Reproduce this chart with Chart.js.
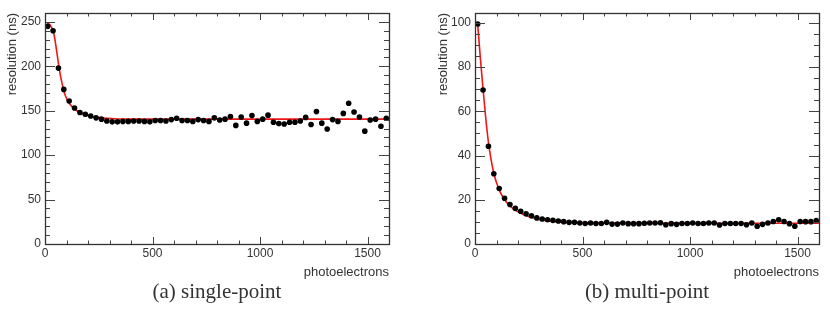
<!DOCTYPE html>
<html>
<head>
<meta charset="utf-8">
<script src="https://cdn.jsdelivr.net/npm/chart.js@4/dist/chart.umd.min.js"></script>
<style>
  body { margin: 0; background: #fff; width: 830px; height: 309px; position: relative; overflow: hidden; }
  .panel { position: absolute; top: 0; width: 415px; height: 280px; }
  .caption { position: absolute; top: 279px; font-family: "Liberation Serif", serif; font-size: 21px; color: #333; text-align: center; }
</style>
</head>
<body>
<div class="panel" style="left:0"><canvas id="single-point-chart" width="415" height="280"></canvas></div>
<div class="panel" style="left:415px"><canvas id="multi-point-chart" width="415" height="280"></canvas></div>
<div class="caption" style="left:45px;width:344px">(a) single-point</div>
<div class="caption" style="left:475px;width:344px">(b) multi-point</div>
<script>
// bin centres (photoelectrons)
const photoelectrons = [
  12.5, 37.5, 62.5, 87.5, 112.5, 137.5, 162.5, 187.5, 212.5, 237.5,
  262.5, 287.5, 312.5, 337.5, 362.5, 387.5, 412.5, 437.5, 462.5, 487.5,
  512.5, 537.5, 562.5, 587.5, 612.5, 637.5, 662.5, 687.5, 712.5, 737.5,
  762.5, 787.5, 812.5, 837.5, 862.5, 887.5, 912.5, 937.5, 962.5, 987.5,
  1012.5, 1037.5, 1062.5, 1087.5, 1112.5, 1137.5, 1162.5, 1187.5, 1212.5, 1237.5,
  1262.5, 1287.5, 1312.5, 1337.5, 1362.5, 1387.5, 1412.5, 1437.5, 1462.5, 1487.5,
  1512.5, 1537.5, 1562.5, 1587.5
];

// resolution (ns), single-point
const singlePoint = [
  245, 240, 198, 174, 161, 153, 148, 146, 144, 142,
  140.5, 138.5, 137.5, 137.5, 138, 138, 138.5, 138.5, 138, 137.5,
  139, 139, 138.5, 140, 141.5, 139, 139, 138, 140, 139,
  138, 142, 139.5, 140.5, 143.5, 133.5, 143, 136, 144.5, 138,
  140.5, 145, 137, 135.5, 135, 137, 137, 138.5, 142.5, 134.5,
  149, 136, 129.5, 140, 138, 147, 158.5, 148.5, 143, 127,
  139.5, 140.5, 132.5, 141.5
];

// resolution (ns), multi-point
const multiPoint = [
  99.5, 69.7, 44.2, 31.8, 25.1, 20.7, 17.9, 16.1, 14.8, 13.7,
  12.8, 11.8, 11.3, 11.0, 10.7, 10.4, 10.1, 9.8, 9.8, 9.5,
  9.3, 9.5, 9.3, 9.3, 9.8, 9.0, 9.0, 9.5, 9.2, 9.2,
  9.2, 9.4, 9.5, 9.5, 9.6, 8.7, 9.2, 8.9, 9.3, 9.3,
  9.5, 9.3, 9.3, 9.5, 9.5, 8.6, 9.3, 9.3, 9.3, 9.3,
  8.7, 9.5, 8.0, 8.9, 9.5, 10.2, 11.0, 10.2, 9.2, 8.0,
  10.2, 10.1, 10.1, 10.6
];

// fit curves
const singleFitX = [10, 25, 40, 55, 67, 79, 93, 117, 148, 187, 241, 319, 450, 800, 1200, 1600];
const singleFitY = [249, 246, 238, 216, 196, 181, 168, 157, 150, 145.5, 142.5, 141, 140.5, 140.5, 140.5, 140.5];
const multiFitX = [12, 25, 37.5, 50, 62.5, 87.5, 112.5, 137.5, 162.5, 187.5, 212.5, 237.5, 262.5, 300, 350, 400, 500, 700, 1000, 1600];
const multiFitY = [100, 84, 70, 57, 46, 32, 24.5, 20, 17.2, 15.3, 13.9, 12.8, 12, 11.1, 10.3, 9.9, 9.6, 9.45, 9.4, 9.4];

const xTicks = [0, 500, 1000, 1500];
const singleYTicks = [0, 50, 100, 150, 200, 250];
const multiYTicks = [0, 20, 40, 60, 80, 100];

const FONT = "'Liberation Sans', Arial, sans-serif";
const TEXT = '#333';

// ROOT style frame with inward ticks on all four sides
const rootFrame = {
  id: 'rootFrame',
  afterDraw(chart, args, opts) {
    const { ctx, chartArea: a, scales: { x, y } } = chart;
    ctx.save();
    ctx.strokeStyle = '#444';
    ctx.lineWidth = 1;
    const marks = (scale, step, len, horizontal) => {
      for (let v = scale.min; v <= scale.max + 1e-9; v += step) {
        const p = Math.round(scale.getPixelForValue(v)) + 0.5;
        ctx.beginPath();
        if (horizontal) {
          ctx.moveTo(p, a.bottom); ctx.lineTo(p, a.bottom - len);
          ctx.moveTo(p, a.top); ctx.lineTo(p, a.top + len);
        } else {
          ctx.moveTo(a.left, p); ctx.lineTo(a.left + len, p);
          ctx.moveTo(a.right, p); ctx.lineTo(a.right - len, p);
        }
        ctx.stroke();
      }
    };
    marks(x, 100, 3.5, true);
    marks(x, 500, 7, true);
    marks(y, opts.yMinor, 5, false);
    marks(y, opts.yMajor, 10, false);
    ctx.lineWidth = 1.3;
    ctx.strokeStyle = '#333';
    ctx.strokeRect(Math.round(a.left) + 0.5, Math.round(a.top) + 0.5,
      Math.round(a.width), Math.round(a.height));
    ctx.restore();
  }
};

function makeChart(canvasId, values, fitX, fitY, yMax, yTicks, yMinor, yMajor, axisWidth, rightPad, titlePad) {
  const canvas = document.getElementById(canvasId);
  return new Chart(canvas.getContext('2d'), {
    type: 'scatter',
    data: {
      datasets: [
        {
          data: photoelectrons.map((x, i) => ({ x: x, y: values[i] })),
          backgroundColor: '#000',
          borderColor: '#000',
          pointRadius: 2.8,
          pointBorderWidth: 0,
          order: 1
        },
        {
          data: fitX.map((x, i) => ({ x: x, y: fitY[i] })),
          showLine: true,
          borderColor: '#f21515',
          borderWidth: 1.6,
          pointRadius: 0,
          cubicInterpolationMode: 'monotone',
          order: 2
        }
      ]
    },
    options: {
      responsive: false,
      animation: false,
      layout: { padding: { top: 13, right: rightPad, left: 0, bottom: 0 } },
      plugins: {
        legend: { display: false },
        tooltip: { enabled: false },
        rootFrame: { yMinor: yMinor, yMajor: yMajor }
      },
      scales: {
        x: {
          type: 'linear',
          min: 0,
          max: 1600,
          afterBuildTicks: s => { s.ticks = xTicks.map(v => ({ value: v })); },
          afterFit: s => { s.height = 36; },
          grid: { display: false, drawTicks: false },
          border: { display: false },
          ticks: { font: { family: FONT, size: 12 }, color: TEXT, padding: 2, maxRotation: 0, autoSkip: false,
                   callback: v => String(v) },
          title: { display: true, text: 'photoelectrons', align: 'end', color: TEXT,
                   font: { family: FONT, size: 13 }, padding: { top: 8, bottom: 0 } }
        },
        y: {
          min: 0,
          max: yMax,
          afterBuildTicks: s => { s.ticks = yTicks.map(v => ({ value: v })); },
          afterFit: s => { s.width = axisWidth; },
          grid: { display: false, drawTicks: false },
          border: { display: false },
          ticks: { font: { family: FONT, size: 12 }, color: TEXT, padding: 4, callback: v => String(v) },
          title: { display: true, text: 'resolution (ns)', align: 'end', color: TEXT,
                   font: { family: FONT, size: 13 }, padding: { top: titlePad, bottom: 0 } }
        }
      }
    },
    plugins: [rootFrame]
  });
}

makeChart('single-point-chart', singlePoint, singleFitX, singleFitY, 260, singleYTicks, 10, 50, 45, 26, 5);
makeChart('multi-point-chart', multiPoint, multiFitX, multiFitY, 104.5, multiYTicks, 5, 20, 60, 11, 21);
</script>
</body>
</html>
